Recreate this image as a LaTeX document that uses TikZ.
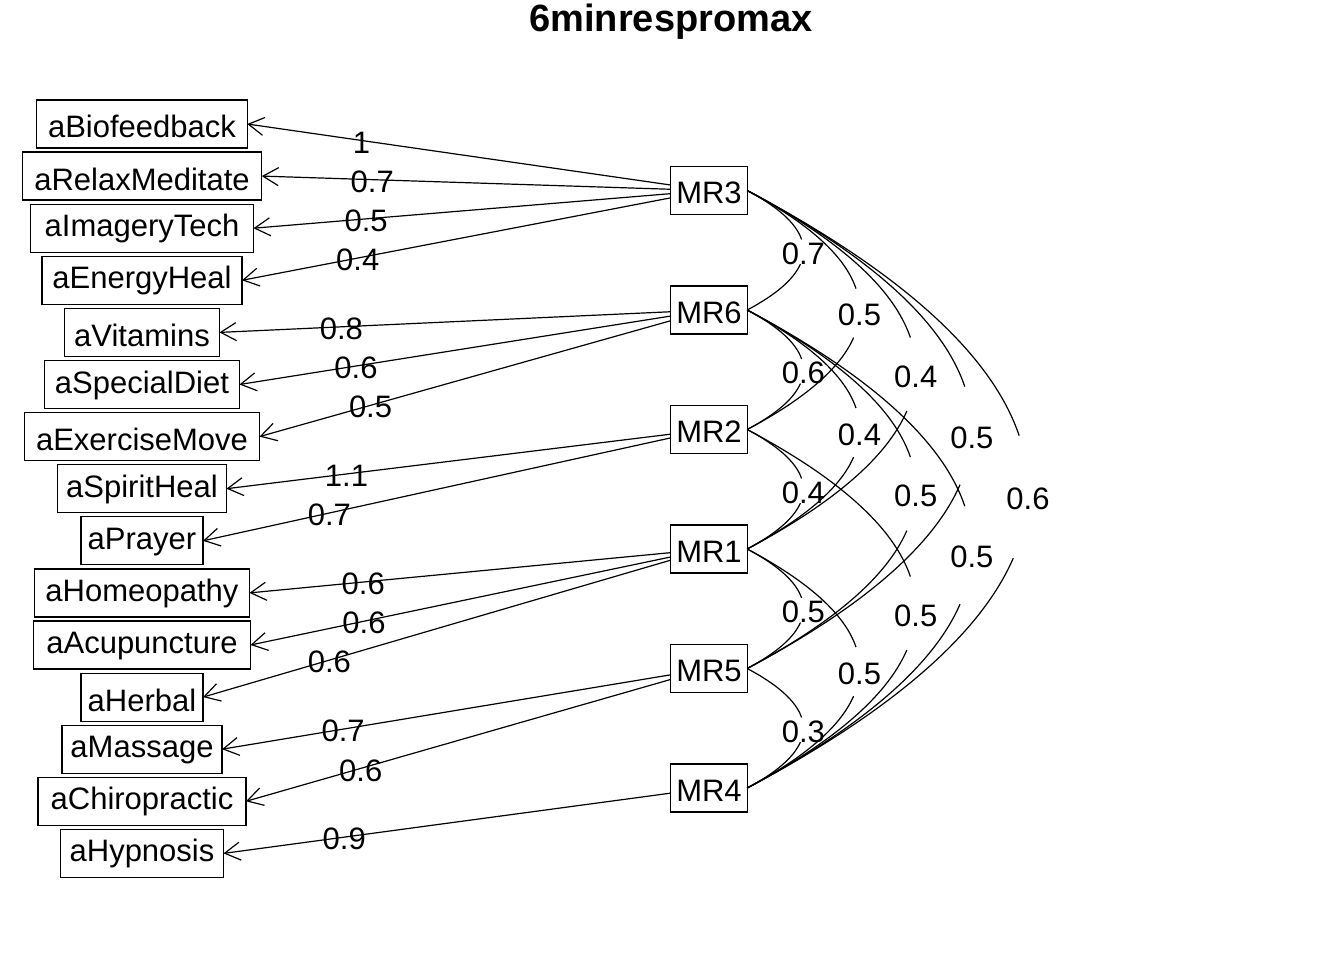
\documentclass[tikz,border=0pt]{standalone}
\usepackage{fontspec}
\setmainfont{Liberation Sans}
\usetikzlibrary{arrows.meta}
\tikzset{
  basefont/.style={font=\fontsize{31}{36}\selectfont},
  item/.style={draw, basefont, line width=1.2pt, inner xsep=0pt, inner ysep=0pt,
    minimum height=48pt, outer sep=0pt, text height=28pt, text depth=0pt},
  itemd/.style={item, text height=23pt, text depth=6pt},
  factor/.style={draw, basefont, line width=1.2pt, inner sep=0pt, minimum width=76.4pt,
    minimum height=48pt, outer sep=0pt, text height=26pt, text depth=0pt},
  lab/.style={basefont, inner sep=0pt, yshift=-2pt},
  ld/.style={line width=1.2pt, {Straight Barb[length=15.5pt,width=18pt]}-},
  corr/.style={line width=1.2pt},
}
\newcommand\itemnode[4]{%
  \node[#1, minimum width=#4pt] (#2) at (142,#3) {#2};}
\def\xo{747.2}
\newcommand\load[3]{\draw[ld] (#1.east) -- node[lab,pos=0.27] (l#1) {#3} (#2);}
\newcommand\fcor[5]{%
  \pgfmathsetmacro\cH{59.75*#4}%
  \pgfmathsetmacro\cS{56.2*#4}%
  \pgfmathsetmacro\cM{#3+\cH}%
  \draw[corr] (#1.east) .. controls ({\xo+0.547*\cS},{\cM-0.7265*\cH}) and ({\xo+0.86959*\cS},{\cM-0.453*\cH}) .. ({\xo+0.96778*\cS},{\cM-0.1795*\cH});
  \draw[corr] ({\xo+0.94673*\cS},{\cM+0.2308*\cH}) .. controls ({\xo+0.82838*\cS},{\cM+0.4872*\cH}) and ({\xo+0.5128*\cS},{\cM+0.7436*\cH}) .. (#2.east);
  \node[lab] (c#1#2) at ({\xo+0.99934*\cS},{\cM+0.0256*\cH}) {#5};
}
\begin{document}
\begin{tikzpicture}[x=1pt,y=-1pt]
\useasboundingbox[fill=white] (0,0) rectangle (1344,960);
\node[font=\fontsize{38}{44}\selectfont\bfseries, anchor=base, inner sep=0pt] (title) at (671,32) {6minrespromax};

% items
\itemnode{item}{aBiofeedback}{124.0}{210.5}
\itemnode{item}{aRelaxMeditate}{176.1}{239.5}
\itemnode{itemd}{aImageryTech}{228.2}{223}
\itemnode{itemd}{aEnergyHeal}{280.3}{200}
\itemnode{item}{aVitamins}{332.4}{155}
\itemnode{itemd}{aSpecialDiet}{384.5}{195}
\itemnode{item}{aExerciseMove}{436.6}{235}
\itemnode{itemd}{aSpiritHeal}{488.7}{169}
\itemnode{itemd}{aPrayer}{540.8}{122}
\itemnode{itemd}{aHomeopathy}{592.9}{215}
\itemnode{itemd}{aAcupuncture}{645.0}{217}
\itemnode{item}{aHerbal}{697.1}{122}
\itemnode{itemd}{aMassage}{749.2}{160}
\itemnode{itemd}{aChiropractic}{801.3}{208}
\itemnode{itemd}{aHypnosis}{853.4}{163}

% factors
\node[factor] (MR3) at (709,190.5) {MR3};
\node[factor] (MR6) at (709,310.0) {MR6};
\node[factor] (MR2) at (709,429.5) {MR2};
\node[factor] (MR1) at (709,549.0) {MR1};
\node[factor] (MR5) at (709,668.5) {MR5};
\node[factor] (MR4) at (709,788.0) {MR4};

% loadings
\load{aBiofeedback}{MR3}{1}
\load{aRelaxMeditate}{MR3}{0.7}
\load{aImageryTech}{MR3}{0.5}
\load{aEnergyHeal}{MR3}{0.4}
\load{aVitamins}{MR6}{0.8}
\load{aSpecialDiet}{MR6}{0.6}
\load{aExerciseMove}{MR6}{0.5}
\load{aSpiritHeal}{MR2}{1.1}
\load{aPrayer}{MR2}{0.7}
\load{aHomeopathy}{MR1}{0.6}
\load{aAcupuncture}{MR1}{0.6}
\load{aHerbal}{MR1}{0.6}
\load{aMassage}{MR5}{0.7}
\load{aChiropractic}{MR5}{0.6}
\load{aHypnosis}{MR4}{0.9}

% factor correlations
\fcor{MR3}{MR6}{190.5}{1}{0.7}
\fcor{MR3}{MR2}{190.5}{2}{0.5}
\fcor{MR3}{MR1}{190.5}{3}{0.4}
\fcor{MR3}{MR5}{190.5}{4}{0.5}
\fcor{MR3}{MR4}{190.5}{5}{0.6}
\fcor{MR6}{MR2}{310.0}{1}{0.6}
\fcor{MR6}{MR1}{310.0}{2}{0.4}
\fcor{MR6}{MR5}{310.0}{3}{0.5}
\fcor{MR6}{MR4}{310.0}{4}{0.5}
\fcor{MR2}{MR1}{429.5}{1}{0.4}
\fcor{MR2}{MR4}{429.5}{3}{0.5}
\fcor{MR1}{MR5}{549.0}{1}{0.5}
\fcor{MR1}{MR4}{549.0}{2}{0.5}
\fcor{MR5}{MR4}{668.5}{1}{0.3}
\end{tikzpicture}
\end{document}
